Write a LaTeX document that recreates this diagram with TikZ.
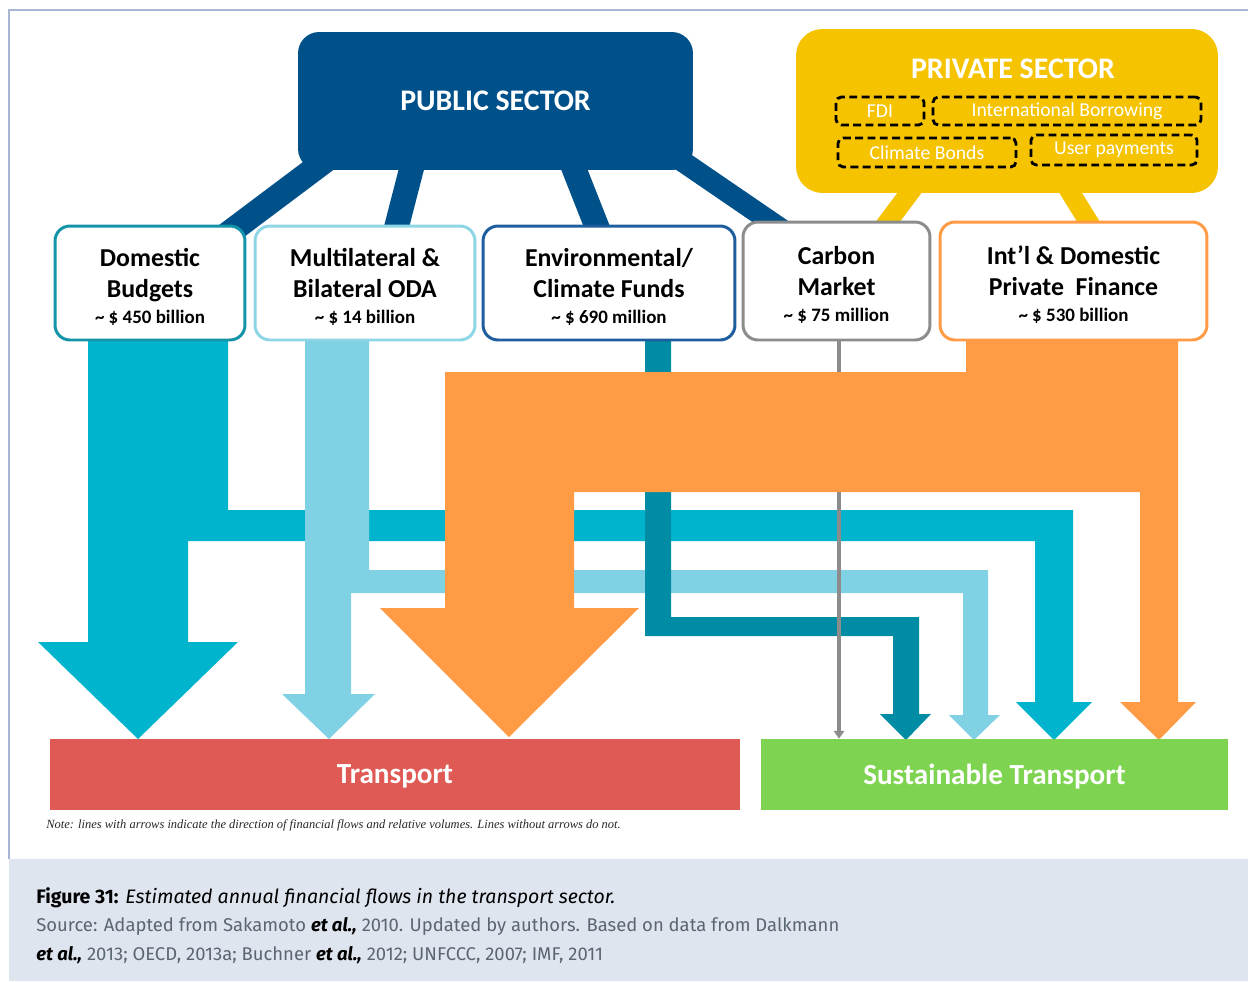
\documentclass[tikz,border=0pt]{standalone}
\usepackage{fontspec}
\setmainfont{Carlito}
\newfontfamily\capfont{Fira Sans}
\newfontfamily\notefont{Liberation Serif}
\usetikzlibrary{arrows.meta, positioning, calc, backgrounds}
\definecolor{pubblue}{HTML}{00508A}
\definecolor{privyellow}{HTML}{F5C300}
\definecolor{domcyan}{HTML}{00B4CD}
\definecolor{domedge}{HTML}{1494A9}
\definecolor{odablue}{HTML}{7FD1E3}
\definecolor{odaedge}{HTML}{8DD6E6}
\definecolor{envteal}{HTML}{008CA5}
\definecolor{envedge}{HTML}{1F5E9E}
\definecolor{carbgray}{HTML}{8C8C8C}
\definecolor{pfinorange}{HTML}{FF9B45}
\definecolor{transred}{HTML}{E05A55}
\definecolor{susgreen}{HTML}{7ED351}
\definecolor{framecol}{HTML}{A9B6D3}
\definecolor{capbg}{HTML}{DFE5EF}
\definecolor{srcgray}{HTML}{5A6670}
\newcommand{\srcamt}[1]{{\fontsize{10.8}{13}\selectfont #1}}
\newcommand{\toppad}{\rule{0pt}{14.4pt}}

\begin{document}
\begin{tikzpicture}[x=0.02cm, y=-0.02cm,
    srcbox/.style={draw=#1, fill=white, line width=1.7pt, rounded corners=8.5pt,
                   align=center, text=black, inner sep=0pt,
                   font=\bfseries\fontsize{14.7}{17.6}\selectfont},
    sector/.style={fill=#1, text=white, inner sep=0pt,
                   font=\bfseries\fontsize{17}{20}\selectfont},
    privitem/.style={draw=black, dash pattern=on 4.5pt off 2.5pt, line width=1.6pt,
                     rounded corners=3pt, text=white, inner sep=0pt,
                     font=\fontsize{11.2}{13}\selectfont},
    target/.style={fill=#1, text=white, text depth=0pt, inner sep=0pt,
                   font=\bfseries\fontsize{16.6}{20}\selectfont},
    pubbar/.style={line width=14pt, draw=pubblue},
    privbar/.style={line width=11pt, draw=privyellow},
    flow/.style={fill=#1},
]
\useasboundingbox (0,0) rectangle (1248,981);
% frame and caption band
\fill[capbg] (9,859) rectangle (1248,981);
\draw[framecol, line width=1.2pt] (9,859) -- (9,10) -- (1248,10);

% sectors
\node[sector=pubblue, rounded corners=12pt, minimum width=7.9cm, minimum height=2.76cm] (pub) at (495.5,101) {PUBLIC SECTOR};
\node[sector=privyellow, rounded corners=15pt, minimum width=8.44cm, minimum height=3.28cm] (priv) at (1007,111) {};
\node[sector=privyellow] (privtitle) at (1013,69) {PRIVATE SECTOR};
\node[privitem, minimum width=1.76cm, minimum height=0.56cm] (fdi) at (880,111) {FDI};
\node[privitem, minimum width=5.36cm, minimum height=0.56cm] (borrow) at (1067,111) {International Borrowing};
\node[privitem, minimum width=3.56cm, minimum height=0.58cm] (bonds) at (927,152.5) {Climate Bonds};
\node[privitem, minimum width=3.32cm, minimum height=0.6cm] (userpay) at (1114,150) {User payments};

% sources
\node[srcbox=domedge, minimum width=3.8cm, minimum height=2.28cm] (dom) at (150,283)
  {\toppad Domestic\\Budgets\\[-2.9pt]\srcamt{\textasciitilde\ \$ 450 billion}};
\node[srcbox=odaedge, minimum width=4.4cm, minimum height=2.28cm] (multi) at (365,283)
  {\toppad Multilateral \&\\Bilateral ODA\\[-2.9pt]\srcamt{\textasciitilde\ \$ 14 billion}};
\node[srcbox=envedge, minimum width=5.04cm, minimum height=2.28cm] (env) at (609,283)
  {\toppad Environmental/\\Climate Funds\\[-2.9pt]\srcamt{\textasciitilde\ \$ 690 million}};
\node[srcbox=carbgray, minimum width=3.74cm, minimum height=2.36cm] (carbon) at (836.5,281)
  {\toppad Carbon\\Market\\[-2.9pt]\srcamt{\textasciitilde\ \$ 75 million}};
\node[srcbox=pfinorange, minimum width=5.34cm, minimum height=2.36cm] (intl) at (1073.5,281)
  {\toppad Int’l \& Domestic\\Private\ \ Finance\\[-2.9pt]\srcamt{\textasciitilde\ \$ 530 billion}};

% targets
\node[target=transred, minimum width=13.8cm, minimum height=1.42cm] (transport) at (395,774.5) {Transport};
\node[target=susgreen, minimum width=9.34cm, minimum height=1.42cm] (sustain) at (994.5,774.5) {Sustainable Transport};

\begin{scope}[on background layer]
  % sector links
  \draw[pubbar] ($(pub.south west)+(28,-10)$) -- ($(dom.north east)+(-25,14)$);
  \draw[pubbar] ($(pub.south west)+(116,-10)$) -- ($(multi.north west)+(140,14)$);
  \draw[pubbar] ($(pub.south west)+(273,-10)$) -- ($(env.north west)+(120,14)$);
  \draw[pubbar, line width=12pt] ($(pub.south east)+(-27,-20)$) -- ($(carbon.north west)+(42,10)$);
  \draw[privbar] ($(priv.south west)+(121,-10)$) -- ($(carbon.north west)+(139,11)$);
  \draw[privbar] ($(priv.south west)+(269,-10)$) -- ($(intl.north west)+(156,11)$);
  % domestic budgets
  \fill[flow=domcyan] (88,340) -- (228,340) -- (228,510) -- (1073,510) -- (1073,702) -- (1092,702)
    -- (1054,740) -- (1016,702) -- (1035,702) -- (1035,541) -- (188,541) -- (188,642)
    -- (238,642) -- (138,739) -- (38,642) -- (88,642) -- cycle;
  % multilateral & bilateral ODA
  \fill[flow=odablue] (305,340) -- (369,340) -- (369,570) -- (988,570) -- (988,715) -- (1000,715)
    -- (974,740) -- (949,715) -- (963,715) -- (963,593) -- (351,593) -- (351,694)
    -- (375,694) -- (329,739) -- (282,694) -- (305,694) -- cycle;
  % climate funds
  \fill[flow=envteal] (645,340) -- (671,340) -- (671,617) -- (919,617) -- (919,714) -- (931,714)
    -- (906,740) -- (880,714) -- (893,714) -- (893,636) -- (645,636) -- cycle;
  % carbon market, no volume
  \draw[carbgray, line width=2.5pt, -{Triangle[width=6pt,length=4.5pt]}]
    ([xshift=0.05cm]carbon.south) -- ([xshift=0.05cm]carbon.south |- sustain.north);
  % private finance
  \fill[flow=pfinorange] (966,340) -- (1178,340) -- (1178,702) -- (1196,702) -- (1159,740)
    -- (1120,702) -- (1140,702) -- (1140,492) -- (574,492) -- (574,608) -- (639,608)
    -- (509,737) -- (380,608) -- (445,608) -- (445,372) -- (966,372) -- cycle;
\end{scope}

% note and caption
\node[anchor=base west, font=\notefont\itshape\fontsize{7.1}{8}\selectfont, text=black!85, inner sep=0pt] (note) at (46,828)
  {Note: lines with arrows indicate the direction of financial flows and relative volumes. Lines without arrows do not.};
\node[anchor=base west, font=\capfont\fontsize{11.1}{14}\selectfont, inner sep=0pt] (captitle) at (36,903)
  {\textbf{Figure 31:} \textit{Estimated annual financial flows in the transport sector.}};
\node[anchor=base west, font=\capfont\fontsize{10.5}{14}\selectfont, text=srcgray, inner sep=0pt] (capsrc) at (36,931.5)
  {Source: Adapted from Sakamoto \textcolor{black}{\textbf{\textit{et al.,}}} 2010. Updated by authors. Based on data from Dalkmann};
\node[anchor=base west, font=\capfont\fontsize{10.5}{14}\selectfont, text=srcgray, inner sep=0pt] (capsrc2) at (36,960)
  {\textcolor{black}{\textbf{\textit{et al.,}}} 2013; OECD, 2013a; Buchner \textcolor{black}{\textbf{\textit{et al.,}}} 2012; UNFCCC, 2007; IMF, 2011};
\end{tikzpicture}
\end{document}
